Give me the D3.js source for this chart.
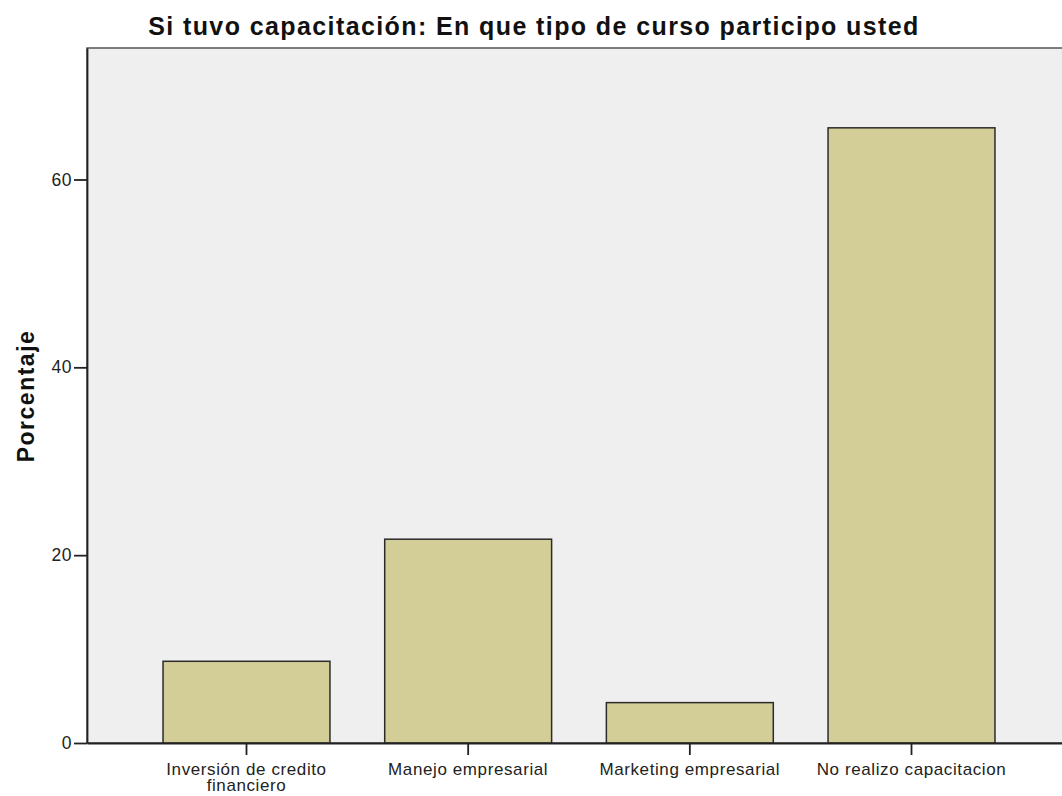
<!DOCTYPE html>
<html>
<head>
<meta charset="utf-8">
<script src="https://cdn.jsdelivr.net/npm/d3@7"></script>
<style>
  body { margin: 0; background: #ffffff; }
  text { font-family: "Liberation Sans", Arial, sans-serif; }
</style>
</head>
<body>
<div id="chart"></div>
<script>
//chart values
const categories = ["Inversión de credito financiero", "Manejo empresarial", "Marketing empresarial", "No realizo capacitacion"];
const labelLines = [["Inversión de credito", "financiero"], ["Manejo empresarial"], ["Marketing empresarial"], ["No realizo capacitacion"]];
const percentages = [8.7, 21.7, 4.3, 65.5];
const yTicks = [0, 20, 40, 60];
const yMax = 74;

const chartTitle = "Si tuvo capacitación: En que tipo de curso participo usted";
const yTitle = "Porcentaje";

const barFill = "#d3ce97",
  plotBg = "#efefef";

const w = 1062;
const h = 796;
//plot frame edges (right side runs past the picture)
const plotLeft = 87, plotTop = 48, plotBottom = 743, plotRight = 1071;

const svg = d3
  .select("#chart")
  .append("svg")
  .attr("width", w)
  .attr("height", h);

const xScale = d3
  .scaleBand()
  .domain(categories)
  .range([plotLeft, plotRight])
  .paddingInner(0.247)
  .paddingOuter(0.343);

const yScale = d3.scaleLinear().domain([0, yMax]).range([plotBottom, plotTop]);

//plot area with frame
svg
  .append("rect")
  .attr("x", plotLeft)
  .attr("y", plotTop)
  .attr("width", plotRight - plotLeft)
  .attr("height", plotBottom - plotTop)
  .attr("fill", plotBg)
  .attr("stroke", "#555")
  .attr("stroke-width", 1.5);

svg
  .selectAll("rect.bar")
  .data(categories)
  .enter()
  .append("rect")
  .attr("class", "bar")
  .attr("x", (d) => xScale(d))
  .attr("y", (d, i) => yScale(percentages[i]))
  .attr("width", xScale.bandwidth())
  .attr("height", (d, i) => plotBottom - yScale(percentages[i]))
  .attr("fill", barFill)
  .attr("stroke", "#2b2b2b")
  .attr("stroke-width", 1.5);

//axes
const yAxis = d3.axisLeft(yScale).tickValues(yTicks).tickSize(13).tickSizeOuter(0).tickPadding(2);
const gy = svg
  .append("g")
  .attr("transform", `translate(${plotLeft},0)`)
  .call(yAxis);

const xAxis = d3.axisBottom(xScale).tickSize(12).tickSizeOuter(0).tickFormat("");
const gx = svg
  .append("g")
  .attr("transform", `translate(0,${plotBottom})`)
  .call(xAxis);

[gx, gy].forEach((g) => {
  g.select(".domain").attr("stroke", "#222").attr("stroke-width", 1.8);
  g.selectAll(".tick line").attr("stroke", "#222").attr("stroke-width", 1.8);
});

gy.selectAll(".tick text")
  .attr("font-family", "Liberation Sans, Arial, sans-serif")
  .attr("font-size", 17.5)
  .attr("letter-spacing", 0.5)
  .attr("fill", "#222");

//category labels, some wrap to two lines
svg
  .selectAll("text.xlab")
  .data(categories)
  .enter()
  .append("text")
  .attr("class", "xlab")
  .attr("text-anchor", "middle")
  .attr("font-size", 17)
  .attr("letter-spacing", 0.6)
  .attr("fill", "#222")
  .each(function (d, i) {
    const t = d3.select(this);
    labelLines[i].forEach((line, k) => {
      t.append("tspan")
        .attr("x", xScale(d) + xScale.bandwidth() / 2)
        .attr("y", 775 + k * 16)
        .text(line);
    });
  });

svg
  .append("text")
  .attr("x", 534)
  .attr("y", 35)
  .attr("text-anchor", "middle")
  .attr("font-size", 25)
  .attr("font-weight", "bold")
  .attr("letter-spacing", 1.4)
  .attr("fill", "#111")
  .text(chartTitle);

svg
  .append("text")
  .attr("transform", "translate(34,396) rotate(-90)")
  .attr("text-anchor", "middle")
  .attr("font-size", 23)
  .attr("font-weight", "bold")
  .attr("letter-spacing", 1.5)
  .attr("fill", "#111")
  .text(yTitle);
</script>
</body>
</html>
